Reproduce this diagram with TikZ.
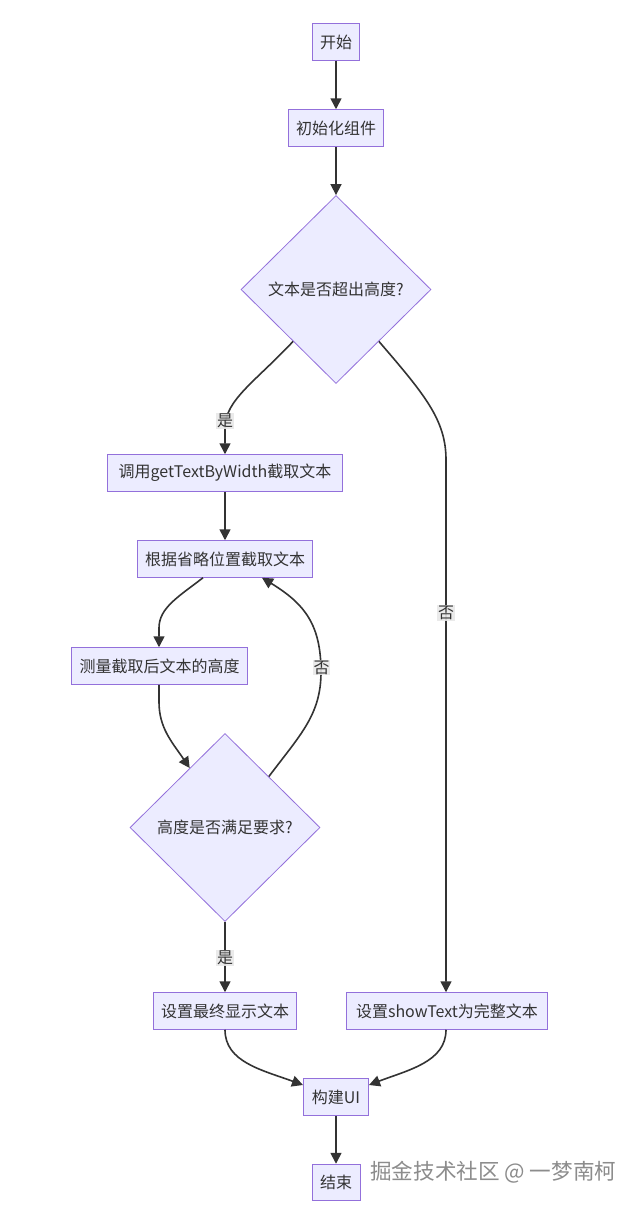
\documentclass[tikz,border=0pt]{standalone}
\usepackage{fontspec}
\setmainfont{Noto Sans CJK SC}
\usetikzlibrary{shapes.geometric,arrows.meta,calc}
\definecolor{nodefill}{HTML}{ECECFF}
\definecolor{nodeborder}{HTML}{9370DB}
\definecolor{linecol}{HTML}{333333}
\definecolor{lblfill}{HTML}{E8E8E8}
\definecolor{wmark}{HTML}{8C8C8C}
\tikzset{
  procbox/.style={draw=nodeborder, fill=nodefill, line width=1pt, minimum height=36.5pt, inner xsep=7pt, inner ysep=0pt, text=linecol, font=\fontsize{16pt}{19pt}\selectfont},
  decision/.style={draw=nodeborder, fill=nodefill, line width=0.8pt, diamond, aspect=1, inner sep=0pt, minimum width=190pt, minimum height=188pt, text=linecol, font=\fontsize{16pt}{19pt}\selectfont},
  flow/.style={draw=linecol, line width=1.6pt, -{Triangle[length=11pt,width=11pt]}},
  edgelabel/.style={fill=lblfill, fill opacity=0.9, text opacity=1, inner sep=0.8pt, text=linecol, font=\fontsize{16pt}{19pt}\selectfont},
}
\begin{document}
\begin{tikzpicture}[x=1pt,y=-1pt]
\useasboundingbox (0,0) rectangle (637,1207);
\fill[white] (0,0) rectangle (637,1207);

% nodes
\node[procbox, minimum width=47pt] (start) at (336,42) {开始};
\node[procbox, minimum width=95pt] (init) at (336,128) {初始化组件};
\node[decision] (d1) at (336,289.5) {文本是否超出高度?};
\node[procbox, minimum width=235pt] (call) at (225,473) {调用getTextByWidth截取文本};
\node[procbox, minimum width=175pt] (cut) at (225,559) {根据省略位置截取文本};
\node[procbox, minimum width=176pt] (meas) at (159.5,666) {测量截取后文本的高度};
\node[decision] (d2) at (225,827.5) {高度是否满足要求?};
\node[procbox, minimum width=143pt] (final) at (225,1011) {设置最终显示文本};
\node[procbox, minimum width=201pt] (full) at (447,1011) {设置showText为完整文本};
\node[procbox, minimum width=65pt] (build) at (336,1097) {构建UI};
\node[procbox, minimum width=48pt] (stop) at (336,1182.5) {结束};

\node[text=wmark, font=\fontsize{21.6pt}{24pt}\selectfont, anchor=west, inner sep=0pt] (wm) at (370,1172) {掘金技术社区 @ 一梦南柯};

% edges
\draw[flow] (start) -- (init);
\draw[flow] (init) -- (d1);

\coordinate (d1l) at ($(d1.west)!0.55!(d1.south)$);
\coordinate (d1r) at ($(d1.east)!0.55!(d1.south)$);
\draw[flow] (d1l) .. controls (255,382) and (225,400) .. (225,428) -- (call.north);
\node[edgelabel] (yes1) at (225,421) {是};

\draw[flow] (d1r) .. controls (425,395) and (446,420) .. (446,460) -- (full.north -| 446,0);
\node[edgelabel] (no1) at (446,613) {否};

\draw[flow] (call) -- (cut);

\coordinate (cutl) at ($(cut.south)+(-22,0)$);
\draw[flow] (cutl) .. controls (178,597) and (159,608) .. (159,628) -- (meas.north -| 159,0);

\coordinate (d2in) at ($(d2.west)!0.63!(d2.north)$);
\draw[flow] (meas.south -| 159,0) -- (159,702) .. controls (159,728) and (172,742) .. (d2in);

\coordinate (d2out) at ($(d2.east)!0.54!(d2.north)$);
\coordinate (cutr) at ($(cut.south)+(37,0)$);
\draw[flow] (d2out) .. controls (300,735) and (321,715) .. (321,672) .. controls (321,625) and (305,604) .. (cutr);
\node[edgelabel] (no2) at (321.5,667.5) {否};

\draw[flow] (d2) -- (final);
\node[edgelabel] (yes2) at (225,958) {是};

\coordinate (bl) at ($(build.west)+(0,-12)$);
\coordinate (br) at ($(build.east)+(0,-12)$);
\draw[flow] (final.south) .. controls (225,1062) and (262,1070) .. (bl);
\draw[flow] (full.south -| 446,0) .. controls (446,1062) and (408,1070) .. (br);

\draw[flow] (build) -- (stop);
\end{tikzpicture}
\end{document}
